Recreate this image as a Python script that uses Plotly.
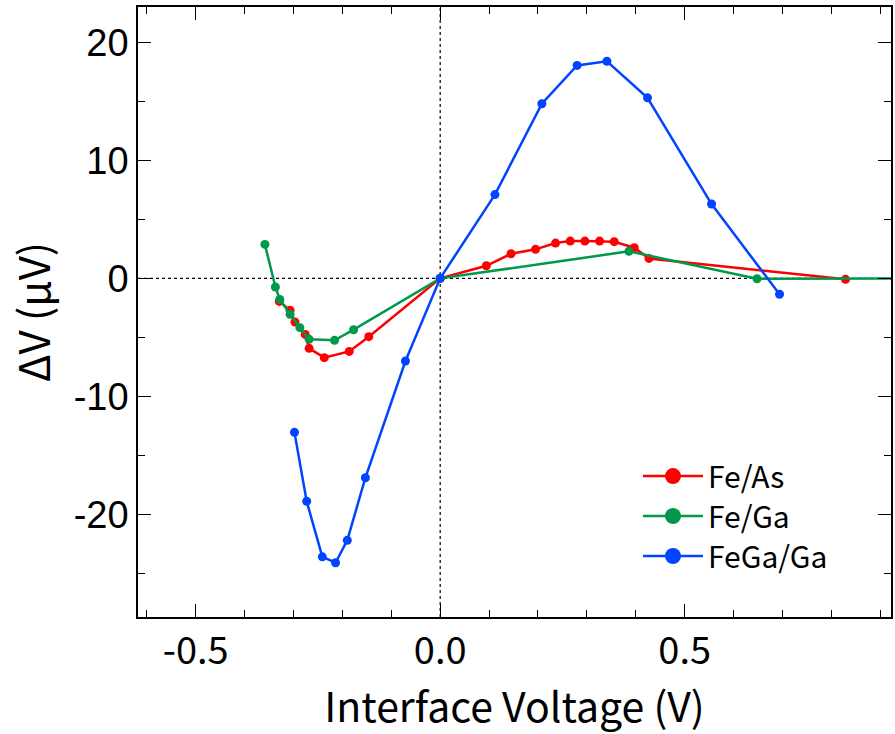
import plotly.graph_objects as go

# Fe/As interface
feas_v = [-0.329, -0.307, -0.297, -0.276, -0.268, -0.237, -0.186, -0.146, 0.0,
          0.0945, 0.145, 0.195, 0.236, 0.266, 0.296, 0.326, 0.356, 0.397, 0.427, 0.829]
feas_dv = [-1.95, -2.71, -3.70, -4.75, -5.93, -6.72, -6.19, -4.94, 0.0,
           1.07, 2.09, 2.46, 2.99, 3.16, 3.16, 3.16, 3.11, 2.60, 1.69, -0.08]

# Fe/Ga interface
fega_v = [-0.3585, -0.337, -0.328, -0.307, -0.287, -0.268, -0.216, -0.177, 0.0,
          0.386, 0.648, 0.98]
fega_dv = [2.88, -0.73, -1.78, -3.05, -4.18, -5.17, -5.25, -4.35, 0.0,
           2.29, -0.03, 0.0]

# FeGa/Ga interface
fegaga_v = [-0.298, -0.273, -0.241, -0.214, -0.190, -0.153, -0.071, 0.0,
            0.112, 0.208, 0.280, 0.341, 0.424, 0.555, 0.694]
fegaga_dv = [-13.05, -18.9, -23.6, -24.1, -22.2, -16.9, -7.0, 0.0,
             7.1, 14.8, 18.05, 18.4, 15.3, 6.3, -1.35]

x_ticks = [-0.5, 0.0, 0.5]
x_labels = ["-0.5", "0.0", "0.5"]
y_ticks = [-20, -10, 0, 10, 20]
y_labels = ["-20", "-10", "0", "10", "20"]

series = [
    ("Fe/As", feas_v, feas_dv, "#FF0000"),
    ("Fe/Ga", fega_v, fega_dv, "#00984A"),
    ("FeGa/Ga", fegaga_v, fegaga_dv, "#0044FF"),
]

cjk = "Noto Sans CJK JP, sans-serif"

fig = go.Figure()
for name, xs, ys, col in series:
    fig.add_trace(go.Scatter(
        x=xs, y=ys, name=name, mode="lines+markers", showlegend=False,
        line=dict(color=col, width=2.5),
        marker=dict(color=col, size=9),
    ))

# one legend box per entry so the row spacing stays compact
legend_ids = ["legend", "legend2", "legend3"]
legend_rows = [0.231, 0.1656, 0.1]
for (name, xs, ys, col), lid in zip(series, legend_ids):
    fig.add_trace(go.Scatter(
        x=[None], y=[None], name=name, mode="lines+markers", legend=lid,
        line=dict(color=col, width=2.5),
        marker=dict(color=col, size=16),
    ))

legend_style = dict(
    x=0.664, xanchor="left", yanchor="middle",
    font=dict(family=cjk, size=30, color="black"),
    bgcolor="rgba(0,0,0,0)", itemsizing="trace", itemwidth=60,
)
for lid, yrow in zip(legend_ids, legend_rows):
    fig.update_layout({lid: dict(y=yrow, **legend_style)})

# zero reference lines
fig.add_shape(type="line", xref="paper", yref="y", x0=0, x1=1, y0=0, y1=0,
              line=dict(color="black", width=1.2, dash="dot"), layer="below")
fig.add_shape(type="line", xref="x", yref="paper", x0=0, x1=0, y0=0, y1=1,
              line=dict(color="black", width=1.2, dash="dot"), layer="below")

fig.update_layout(
    width=895, height=734,
    margin=dict(l=138, r=2, t=7, b=117),
    paper_bgcolor="white", plot_bgcolor="white",
    showlegend=True,
    xaxis=dict(
        range=[-0.618, 0.922], showgrid=False, zeroline=False,
        showline=True, linecolor="black", linewidth=1.5, mirror="allticks",
        ticks="inside", ticklen=13, tickwidth=1.2, tickcolor="black",
        tickmode="array", tickvals=x_ticks, ticktext=x_labels,
        minor=dict(dtick=0.1, tick0=0, ticks="inside", ticklen=7, tickwidth=1.2, tickcolor="black"),
        tickfont=dict(family=cjk, size=38, color="black"),
        ticklabelstandoff=0,
        title=dict(text="Interface Voltage (V)", font=dict(family=cjk, size=41, color="black"),
                   standoff=24),
    ),
    yaxis=dict(
        range=[-28.7, 23.0], showgrid=False, zeroline=False,
        showline=True, linecolor="black", linewidth=1.5, mirror="allticks",
        ticks="inside", ticklen=13, tickwidth=1.2, tickcolor="black",
        tickmode="array", tickvals=y_ticks, ticktext=y_labels,
        minor=dict(dtick=5, tick0=0, ticks="inside", ticklen=7, tickwidth=1.2, tickcolor="black"),
        tickfont=dict(family="Liberation Sans, Arial, sans-serif", size=38, color="black"),
        title=dict(text="ΔV (μV)", font=dict(family=cjk, size=42, color="black"), standoff=10),
    ),
)

fig.write_html("out.html")
